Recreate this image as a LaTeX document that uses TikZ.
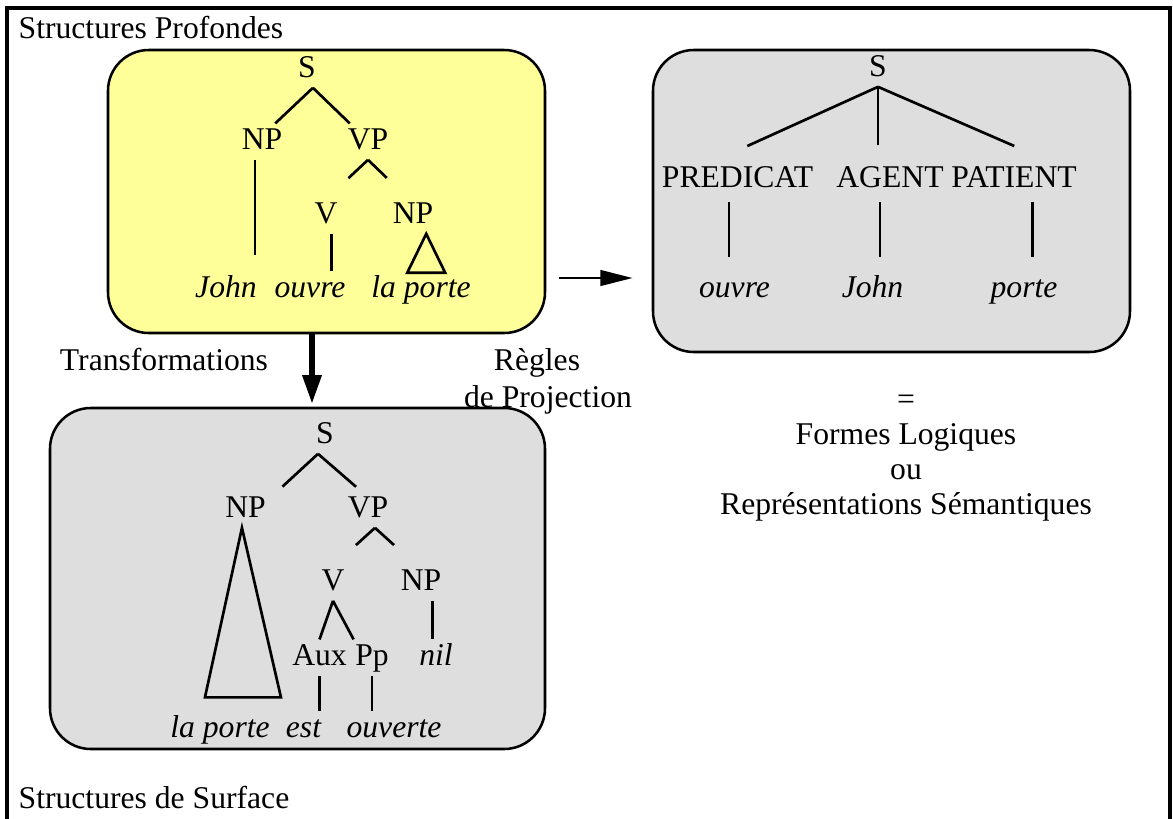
\documentclass[tikz,border=0pt]{standalone}
\usepackage{fontspec}
\setmainfont{Liberation Serif}
\usetikzlibrary{arrows.meta,fit,positioning}
\definecolor{deepyellow}{RGB}{255,255,153}
\definecolor{boxgray}{RGB}{222,222,222}
\newcommand{\figfont}{\fontsize{22.5pt}{25pt}\selectfont}

\begin{document}
\begin{tikzpicture}[x=0.025cm,y=-0.025cm,
  box/.style={draw,line width=1.8pt,rounded corners=29pt,inner sep=0pt},
  lab/.style={font=\figfont,inner xsep=1pt,inner ysep=3pt,
              text height=15pt,text depth=4.5pt,anchor=base},
  leaf/.style={lab,font=\figfont\itshape},
  br/.style={line width=1.9pt},
  arr/.style={-{Triangle[length=23pt,width=11pt]},line width=2pt},
  arrb/.style={-{Triangle[length=20.5pt,width=13pt]},line width=4pt}]
\useasboundingbox (0,0) rectangle (1173,818);
\node[box,fill=deepyellow,fit={(108,50) (545,333)}] (deep) {};
\node[box,fill=boxgray,fit={(653,50) (1130,352)}] (logic) {};
\node[box,fill=boxgray,fit={(50,408) (545,749)}] (surf) {};
\draw[line width=2.2pt] (7,840) |- (1170,8) -- (1170,840);
\node[lab,anchor=base west] (ptitle) at (17,38) {Structures Profondes};
\node[lab,anchor=base west] (stitle) at (17,808) {Structures de Surface};

\node[lab] (s1) at (307,77) {S};
\node[lab] (np1) at (262,149) {NP};
\node[lab] (vp1) at (368,149) {VP};
\node[lab] (v1) at (326,223) {V};
\node[lab] (np2) at (413,223) {NP};
\node[leaf] (john1) at (226,297) {John};
\node[leaf] (ouvre1) at (310,297) {ouvre};
\node[leaf] (porte1) at (421,297) {la porte};
\draw[br] (s1.288) -- (np1.54) (s1.288) -- (vp1.135);
\draw[br,shorten >=12pt] (np1.249) -- (np1.249 |- john1.north);
\draw[br] (vp1.south) edge[shorten >=20pt] (v1.84)
                      edge[shorten >=20pt] (np2.108);
\draw[br] (v1.286) -- (v1.286 |- ouvre1.north);
\draw[br] (np2.306) -- ++(-19,39) -- ++(38,0) -- cycle;

\node[lab] (s2) at (878,76) {S};
\node[lab] (pred) at (737.5,187) {PREDICAT};
\node[lab] (agent) at (890,187) {AGENT};
\node[lab] (patient) at (1014,187) {PATIENT};
\node[leaf] (ouvre2) at (734.5,297) {ouvre};
\node[leaf] (john2) at (872.5,297) {John};
\node[leaf] (porte2) at (1024,297) {porte};
\draw[br] (s2.south) edge[shorten >=26.5pt] (pred.143)
                     edge[shorten >=12pt] (s2.south |- agent.north)
                     edge[shorten >=27.5pt] (patient.27);
\draw[br,shorten <=3pt,shorten >=10pt] (pred.245) -- (pred.245 |- ouvre2.north);
\draw[br,shorten <=3pt,shorten >=10pt] (agent.241) -- (agent.241 |- john2.north);
\draw[br,shorten <=3pt,shorten >=10pt] (patient.315) -- (patient.315 |- porte2.north);

\node[lab] (s3) at (325,443) {S};
\node[lab] (np3) at (245.5,517) {NP};
\node[lab] (vp3) at (368,517) {VP};
\node[lab] (v3) at (333,590) {V};
\node[lab] (np4) at (421,590) {NP};
\node[lab] (aux) at (319.5,665) {Aux};
\node[lab] (pp) at (372,665) {Pp};
\node[leaf] (nil) at (436,665) {nil};
\node[leaf] (porte3) at (220,737) {la porte};
\node[leaf] (est) at (303.5,737) {est};
\node[leaf] (ouverte) at (394,737) {ouverte};
\draw[br] (s3.249) edge[shorten >=5pt] ([xshift=7pt]np3.north east)
                   edge[shorten >=5pt] (vp3.110);
\draw[br] (np3.259) -- ++(-37,169.5) -- ++(76,0) -- cycle;
\draw[br] (vp3.291) edge[shorten >=20.5pt] (v3.85)
                    edge[shorten >=20.5pt] (np4.107);
\draw[br] (v3.south) -- (aux.north) (v3.south) -- (pp.north west);
\draw[br] (np4.302) -- (np4.302 |- nil.north);
\draw[br] (aux.south) -- (aux.south |- est.north);
\draw[br] (pp.south) -- (pp.south |- ouverte.north);

\draw[arr,shorten <=9pt,shorten >=13.5pt] (deep.east |- 0,278) -- (logic.west |- 0,278);
\draw[arrb,shorten >=2pt] (deep.south -| 312,0) -- (surf.north -| 312,0);
\node[lab] (trans) at (164,370) {Transformations};
\node[lab] (regles) at (537,370) {Règles};
\node[lab] (proj) at (548,407) {de Projection};
\node[font=\figfont,align=center] (forms) at (906,458)
  {=\\Formes Logiques\\ou\\Représentations Sémantiques};
\end{tikzpicture}
\end{document}
